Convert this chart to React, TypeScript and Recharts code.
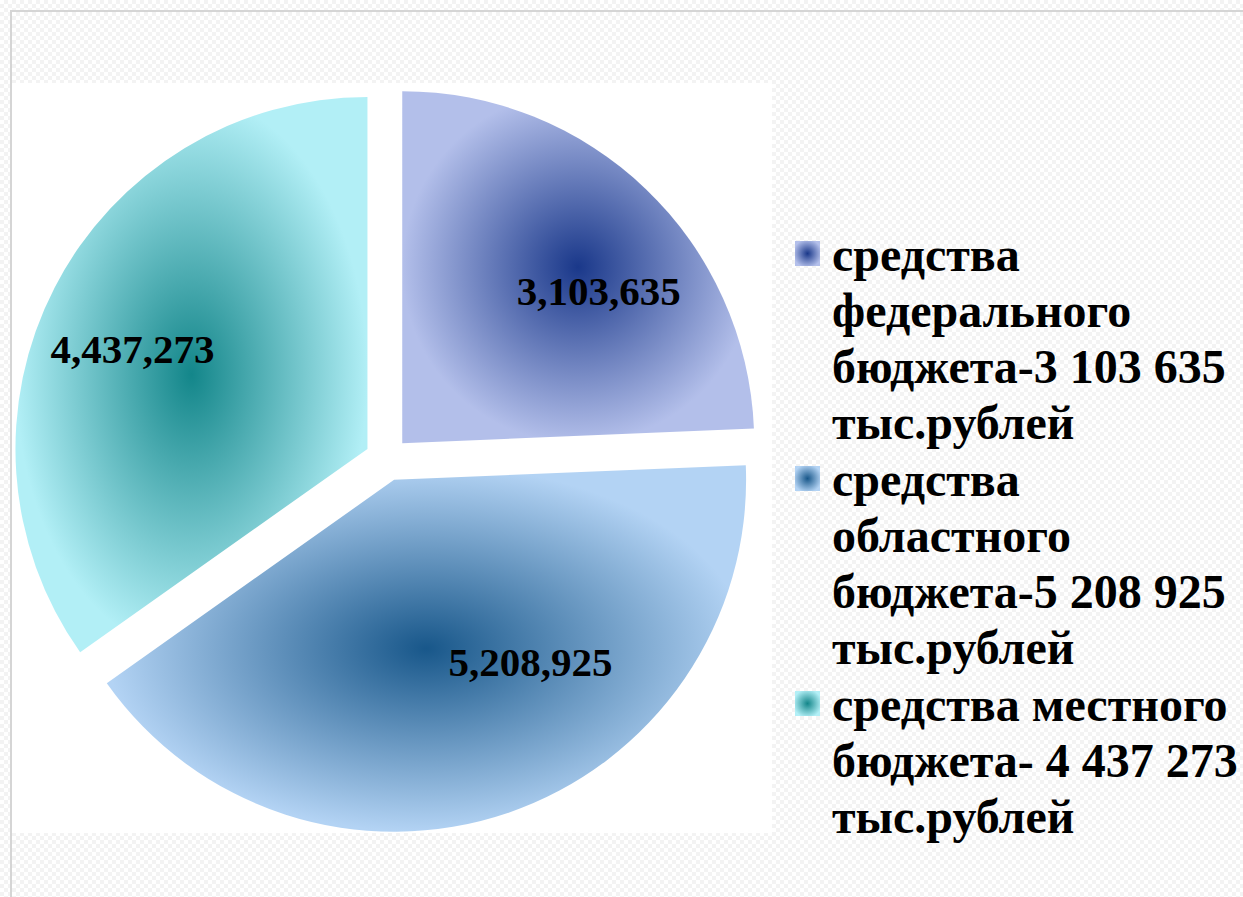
import React from 'react';
import { PieChart, Pie, Legend, Sector } from 'recharts';

// budget sources, thousand rubles
const categories = [
  'средства федерального бюджета-3 103 635 тыс.рублей',
  'средства областного бюджета-5 208 925 тыс.рублей',
  'средства местного бюджета- 4 437 273 тыс.рублей',
];
const amounts = [3103635, 5208925, 4437273];

const centerColors = ['#1a388a', '#18578a', '#13868a'];
const edgeColors = ['#b3bfea', '#b3d3f4', '#b2eff6'];
// small shifts so labels sit where the original placed them
const labelNudges = [[26, 26], [57, -51], [-16, 13]];

const data = categories.map((name, i) => ({ name, value: amounts[i] }));

const RAD = Math.PI / 180;
const EXPLODE = 22;
const SERIF = '"Liberation Serif", "Times New Roman", serif';

const fmt = (v: number) => String(v).replace(/\B(?=(\d{3})+(?!\d))/g, ',');

const ExplodedSector = (props: any) => {
  const { cx, cy, midAngle, innerRadius, outerRadius, startAngle, endAngle, index } = props;
  const dx = EXPLODE * Math.cos(-midAngle * RAD);
  const dy = EXPLODE * Math.sin(-midAngle * RAD);
  return (
    <Sector
      cx={cx + dx}
      cy={cy + dy}
      innerRadius={innerRadius}
      outerRadius={outerRadius}
      startAngle={startAngle}
      endAngle={endAngle}
      fill={`url(#grad${index})`}
      stroke="none"
    />
  );
};

const renderLabel = (props: any) => {
  const { cx, cy, midAngle, outerRadius, index, value } = props;
  const r = outerRadius * 0.7 + EXPLODE;
  const x = cx + r * Math.cos(-midAngle * RAD) + labelNudges[index][0];
  const y = cy + r * Math.sin(-midAngle * RAD) + labelNudges[index][1];
  return (
    <text
      x={x}
      y={y}
      textAnchor="middle"
      dominantBaseline="central"
      fontFamily={SERIF}
      fontWeight="bold"
      fontSize={41}
      fill="#000"
    >
      {fmt(value)}
    </text>
  );
};

const renderLegend = () => (
  <div style={{ fontFamily: SERIF, fontWeight: 'bold', fontSize: 48, lineHeight: '56px', color: '#000' }}>
    {categories.map((c, i) => (
      <div key={i} style={{ display: 'flex', alignItems: 'flex-start', marginBottom: 1 }}>
        <span
          style={{
            flex: '0 0 25px',
            width: 25,
            height: 25,
            marginTop: 14,
            marginRight: 12,
            background: `radial-gradient(circle, ${centerColors[i]} 0%, ${edgeColors[i]} 80%)`,
          }}
        />
        <span>{c}</span>
      </div>
    ))}
  </div>
);

const App: React.FC = () => {
  return (
    <div
      style={{
        position: 'absolute',
        left: 0,
        top: 0,
        width: 1243,
        height: 897,
        backgroundColor: '#ffffff',
        backgroundImage: 'repeating-conic-gradient(#f3f3f3 0% 25%, #ffffff 0% 50%)',
        backgroundSize: '8px 8px',
        overflow: 'hidden',
      }}
    >
      <div
        style={{
          position: 'absolute',
          left: 10,
          top: 10,
          width: 1260,
          height: 900,
          borderLeft: '2px solid #d5d5d5',
          borderTop: '2px solid #d5d5d5',
        }}
      />
      <div style={{ position: 'absolute', left: 12, top: 83, width: 760, height: 750, background: '#fff' }} />
      <div style={{ position: 'absolute', left: 0, top: 0 }}>
        <PieChart width={1243} height={897}>
          <defs>
            {centerColors.map((c, i) => (
              <radialGradient key={i} id={`grad${i}`} cx="50%" cy="50%" r="50%">
                <stop offset="0%" stopColor={c} />
                <stop offset="100%" stopColor={edgeColors[i]} />
              </radialGradient>
            ))}
          </defs>
          <Pie
            data={data}
            dataKey="value"
            nameKey="name"
            cx={382}
            cy={454}
            outerRadius={352}
            startAngle={90}
            endAngle={-270}
            stroke="none"
            shape={ExplodedSector}
            label={renderLabel}
            labelLine={false}
            isAnimationActive={false}
          />
          <Legend
            layout="vertical"
            align="right"
            verticalAlign="top"
            content={renderLegend}
            wrapperStyle={{ position: 'absolute', left: 795, top: 227, width: 445 }}
          />
        </PieChart>
      </div>
    </div>
  );
};

export default App;
